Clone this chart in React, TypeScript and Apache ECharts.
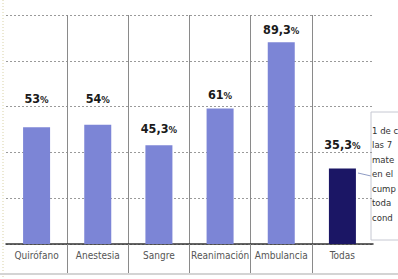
import React, { useEffect, useRef } from "react";
import * as echarts from "echarts";

const categories = ["Quirófano", "Anestesia", "Sangre", "Reanimación", "Ambulancia", "Todas"];
const values = [53, 54, 45.3, 61, 89.3, 35.3];
// the note is cut off at the right edge of the reference; only its visible part is kept
const noteLines = ["1 de c", "las 7", "mate", "en el", "cump", "toda", "cond"];

// styling only
const labelGaps = [22, 20, 10, 7, 6, 18];
const LIGHT = "#7c85d6";
const DARK = "#1b1665";
const FONT = "'Liberation Sans Narrow', 'DejaVu Sans Condensed', sans-serif";

export default function App() {
  const ref = useRef<HTMLDivElement>(null);
  useEffect(() => {
    if (!ref.current) return;
    const chart = echarts.init(ref.current, null, { renderer: "svg" });
    const W = 398;
    const L = 6, R = 25, T = 15, B = 35;
    const band = (W - L - R) / categories.length;
    const fmt = (v: number) => String(v).replace(".", ",");
    chart.setOption({
      animation: false,
      backgroundColor: "#ffffff",
      grid: [
        { left: L, right: R, top: T, bottom: B },
        { left: L + band, right: R + band, top: T, bottom: B },
      ],
      xAxis: [
        {
          type: "category",
          gridIndex: 0,
          data: categories,
          axisLine: { show: true, lineStyle: { color: "#333", width: 1.5 } },
          axisTick: { show: false },
          splitLine: { show: false },
          axisLabel: { interval: 0, color: "#555", fontSize: 10, fontFamily: FONT, margin: 6 },
        },
        {
          type: "value",
          gridIndex: 1,
          min: 1,
          max: 5,
          interval: 1,
          axisLine: { show: false },
          axisLabel: { show: false },
          axisTick: { show: true, length: 29, lineStyle: { color: "#8a8a8a", width: 1 } },
          splitLine: { show: true, lineStyle: { color: "#8a8a8a", width: 1 } },
        },
      ],
      yAxis: [
        {
          type: "value",
          gridIndex: 0,
          min: 3,
          max: 101,
          axisLine: { show: false },
          axisTick: { show: false },
          axisLabel: { show: false },
          splitLine: { show: false },
        },
        {
          type: "value",
          gridIndex: 0,
          min: 0,
          max: 5,
          interval: 1,
          axisLine: { show: false },
          axisTick: { show: false },
          axisLabel: { show: false },
          splitLine: { show: true, lineStyle: { color: "#9a9a9a", type: [2, 2], width: 1 } },
        },
        {
          type: "value",
          gridIndex: 1,
          min: 0,
          max: 1,
          show: false,
          splitLine: { show: false },
        },
      ],
      series: [
        {
          type: "bar",
          xAxisIndex: 0,
          yAxisIndex: 0,
          barWidth: 27,
          data: values.map((v, i) => ({
            value: v,
            itemStyle: { color: i === values.length - 1 ? DARK : LIGHT },
            label: { distance: labelGaps[i] },
          })),
          label: {
            show: true,
            position: "top",
            formatter: (p: any) => `{n|${fmt(p.value)}}{p|%}`,
            rich: {
              n: { fontSize: 12.5, fontWeight: "bold", color: "#1a1a1a", fontFamily: FONT },
              p: { fontSize: 9.5, fontWeight: "bold", color: "#1a1a1a", fontFamily: FONT, padding: [2, 0, 0, 0] },
            },
          },
        },
      ],
      graphic: [
        {
          type: "line",
          shape: { x1: 3, y1: 0, x2: 3, y2: 279 },
          style: { stroke: "#d9d2a6", lineWidth: 1, lineDash: [1, 2] },
        },
        {
          type: "line",
          shape: { x1: 0, y1: 274, x2: 398, y2: 274 },
          style: { stroke: "#d4d4d4", lineWidth: 2 },
        },
        {
          type: "line",
          shape: { x1: 358, y1: 173, x2: 371, y2: 176 },
          style: { stroke: "#8f9cc4", lineWidth: 1 },
        },
        {
          type: "rect",
          shape: { x: 371, y: 112, width: 40, height: 128 },
          style: { fill: "#ffffff", stroke: "#c6c8d2", lineWidth: 1 },
        },
        ...noteLines.map((t, i) => ({
          type: "text",
          x: 372,
          y: 130 + i * 14.5,
          style: {
            text: t,
            fontSize: 9.5,
            fontFamily: FONT,
            fill: "#333",
            verticalAlign: "middle",
            align: "left",
          },
        })),
      ],
    });
    return () => chart.dispose();
  }, []);
  return <div ref={ref} style={{ width: 398, height: 279, position: "absolute", left: 0, top: 0 }} />;
}
